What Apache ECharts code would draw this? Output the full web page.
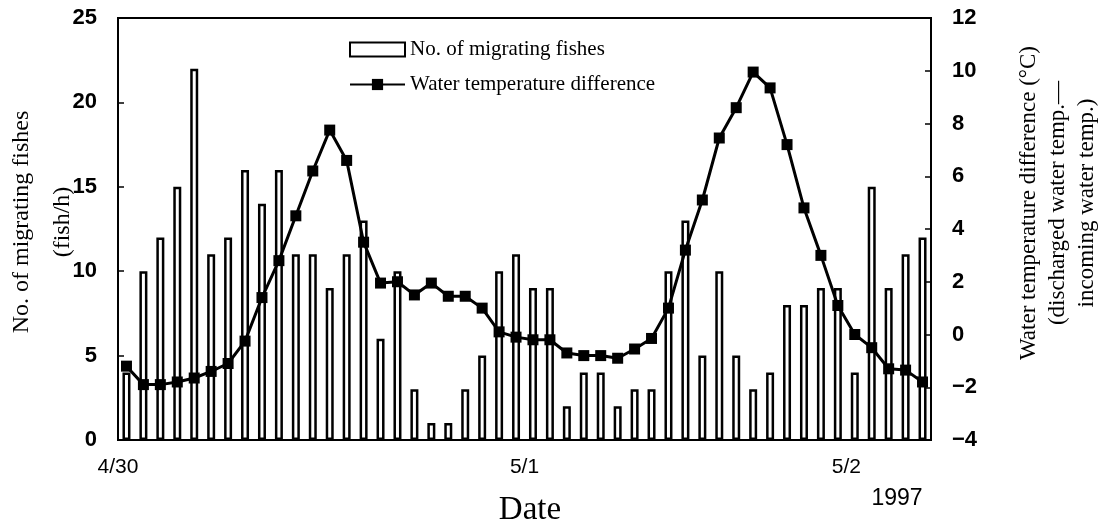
<!DOCTYPE html>
<html>
<head>
<meta charset="utf-8">
<script src="https://cdn.jsdelivr.net/npm/echarts@6/dist/echarts.min.js"></script>
<style>html,body{margin:0;padding:0;background:#fff}#c{width:1103px;height:524px}</style>
</head>
<body>
<div id="c"></div>
<script>
// 48 consecutive observations (categories)
const categories = Array.from({length: 48}, (_, i) => String(i + 1));
const fishCounts = [4,10,12,15,22,11,12,16,14,16,11,11,9,11,13,6,10,3,1,1,3,5,10,11,9,9,2,4,4,2,3,3,10,13,5,10,5,3,4,8,8,9,9,4,15,9,11,12];
const tempDiff = [-1.2,-1.9,-1.9,-1.8,-1.65,-1.4,-1.1,-0.25,1.4,2.8,4.5,6.2,7.75,6.6,3.5,1.95,2.0,1.5,1.95,1.45,1.45,1.0,0.1,-0.1,-0.2,-0.2,-0.7,-0.8,-0.8,-0.9,-0.55,-0.15,1.0,3.2,5.1,7.45,8.6,9.95,9.35,7.2,4.8,3.0,1.1,0.0,-0.5,-1.3,-1.35,-1.8];
const dateLabels = {0: '4/30', 24: '5/1', 43: '5/2'};
const leftTicks = {min: 0, max: 25, interval: 5};
const rightTicks = {min: -4, max: 12, interval: 2};

const chart = echarts.init(document.getElementById('c'), null, {renderer: 'canvas'});
const sans = 'Liberation Sans, Arial, sans-serif';
const tickFont = {fontFamily: sans, fontSize: 22, fontWeight: 'bold', color: '#000'};
const serif = 'Liberation Serif, Times New Roman, serif';

chart.setOption({
  animation: false,
  backgroundColor: '#fff',
  grid: {left: 118, right: 172, top: 18, bottom: 84, show: true, borderColor: '#000', borderWidth: 2, backgroundColor: 'transparent'},
  legend: {
    orient: 'vertical', left: 344, top: 34, itemWidth: 55, itemHeight: 14, itemGap: 14,
    textStyle: {fontFamily: serif, fontSize: 21, color: '#000'},
    data: [{name: 'No. of migrating fishes', icon: 'rect'}, {name: 'Water temperature difference'}]
  },
  xAxis: [
    {type: 'category', data: categories, boundaryGap: true, axisLine: {show: false}, axisTick: {show: false}, axisLabel: {show: false}},
    {type: 'value', min: 0, max: 48, interval: 1, position: 'bottom', axisLine: {show: false}, axisTick: {show: false}, splitLine: {show: false},
     axisLabel: {margin: 17, fontFamily: sans, fontSize: 21, color: '#000', showMinLabel: true, showMaxLabel: true,
       formatter: v => dateLabels[v] || ''}}
  ],
  yAxis: [
    {type: 'value', min: leftTicks.min, max: leftTicks.max, interval: leftTicks.interval, splitLine: {show: false},
     axisLine: {show: true, lineStyle: {color: '#000', width: 2}}, axisTick: {show: true, inside: true, length: 6, lineStyle: {color: '#000', width: 1.5}},
     axisLabel: Object.assign({margin: 21}, tickFont)},
    {type: 'value', min: rightTicks.min, max: rightTicks.max, interval: rightTicks.interval, position: 'right', splitLine: {show: false},
     axisLine: {show: true, lineStyle: {color: '#000', width: 2}}, axisTick: {show: true, inside: true, length: 6, lineStyle: {color: '#000', width: 1.5}},
     axisLabel: Object.assign({margin: 21, formatter: v => String(v).replace('-', '\u2212')}, tickFont)}
  ],
  series: [
    {name: 'No. of migrating fishes', type: 'bar', xAxisIndex: 0, yAxisIndex: 0, data: fishCounts, barWidth: 8,
     itemStyle: {color: '#fff', borderColor: '#000', borderWidth: 2.5}},
    {name: 'Water temperature difference', type: 'line', xAxisIndex: 0, yAxisIndex: 1, data: tempDiff,
     symbol: 'rect', symbolSize: 11, lineStyle: {color: '#000', width: 3}, itemStyle: {color: '#000'}}
  ],
  graphic: [
    {type: 'text', x: 42, y: 222, rotation: Math.PI / 2,
     style: {text: 'No. of migrating fishes\n(fish/h)', fontFamily: serif, fontSize: 24, lineHeight: 41, align: 'center', verticalAlign: 'middle', fill: '#000'}},
    {type: 'text', x: 1058, y: 203, rotation: Math.PI / 2,
     style: {text: 'Water temperature difference (\u00B0C)\n(discharged water temp.\u2014\nincoming water temp.)', fontFamily: serif, fontSize: 23, lineHeight: 29, align: 'center', verticalAlign: 'middle', fill: '#000'}},
    {type: 'text', x: 530, y: 510, style: {text: 'Date', fontFamily: serif, fontSize: 33, align: 'center', verticalAlign: 'middle', fill: '#000'}},
    {type: 'text', x: 897, y: 499, style: {text: '1997', fontFamily: sans, fontSize: 23, align: 'center', verticalAlign: 'middle', fill: '#000'}}
  ]
});
</script>
</body>
</html>
